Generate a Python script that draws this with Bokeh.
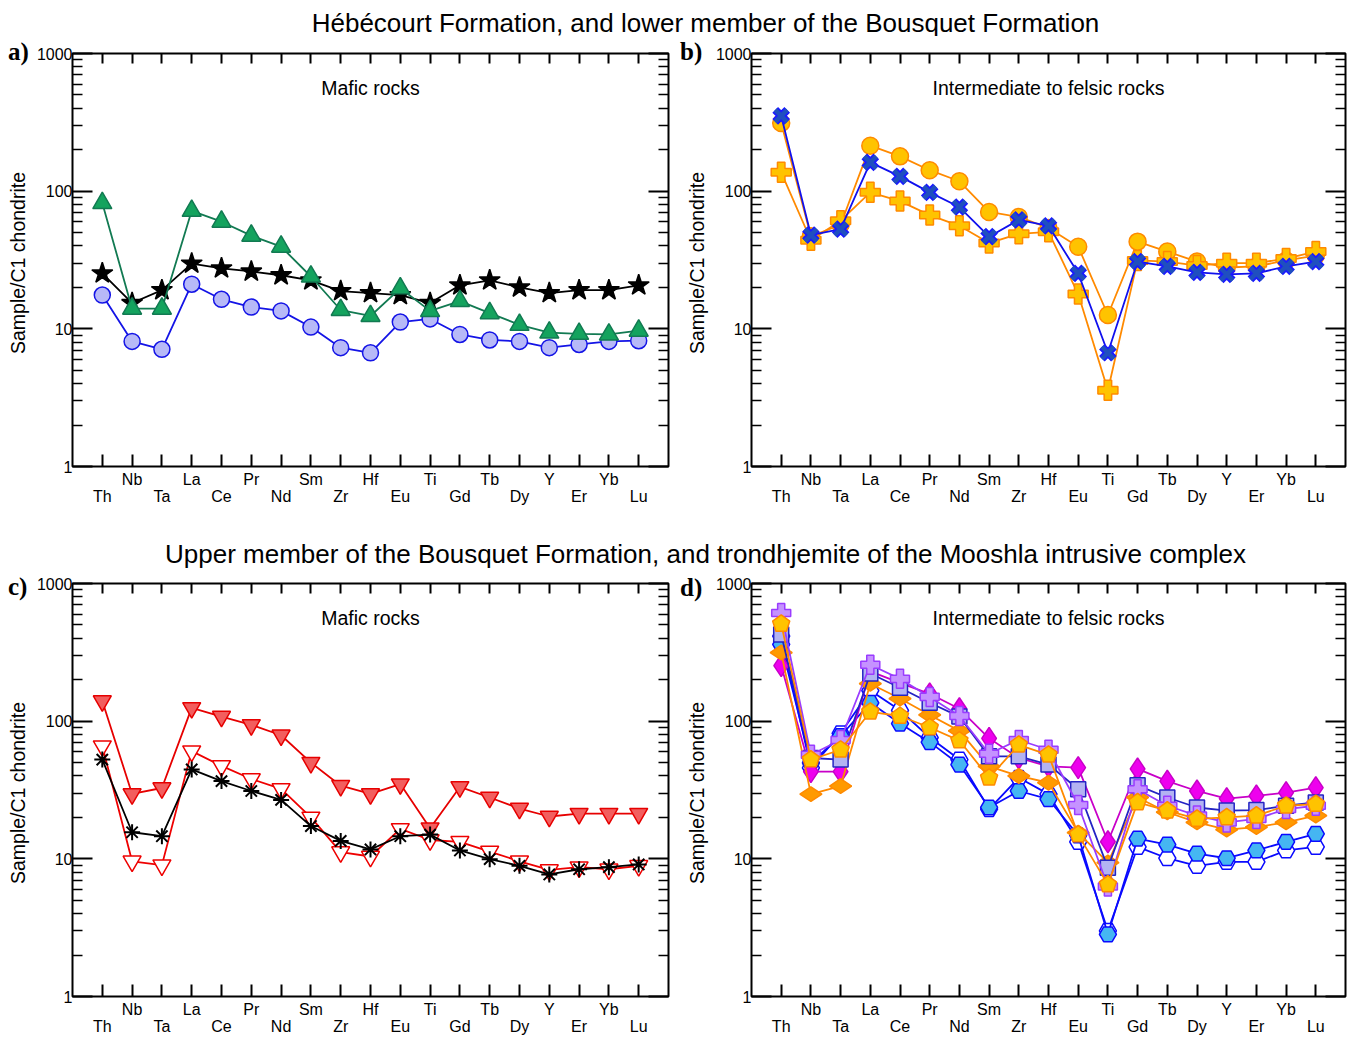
import math
from bokeh.plotting import figure
from bokeh.models import (Range1d, LinearAxis, LogAxis, FixedTicker, PrintfTickFormatter,
                          CustomJSTickFormatter, Label, Div)
from bokeh.core.properties import value
from bokeh.layouts import column, row
from bokeh.embed import file_html
from bokeh.resources import INLINE

# ---------------- data ----------------
elements = ["Th", "Nb", "Ta", "La", "Ce", "Pr", "Nd", "Sm", "Zr", "Hf",
            "Eu", "Ti", "Gd", "Tb", "Dy", "Y", "Er", "Yb", "Lu"]
xpos = list(range(len(elements)))

y_major = [1, 10, 100, 1000]
y_label = "Sample/C1 chondrite"

title_top = "Hébécourt Formation, and lower member of the Bousquet Formation"
title_bottom = "Upper member of the Bousquet Formation, and trondhjemite of the Mooshla intrusive complex"

# panel a  (mafic rocks, Hébécourt / lower Bousquet)
a_circle = [17.6, 8.1, 7.1, 21.1, 16.4, 14.4, 13.5, 10.3, 7.3, 6.7, 11.2, 11.8, 9.1, 8.3, 8.1, 7.3, 7.7, 8.1, 8.2]
a_star = [25.3, 15.4, 19.1, 29.8, 27.5, 26.1, 24.5, 22.5, 18.8, 18.2, 17.6, 15.4, 20.7, 22.5, 20.0, 18.2, 19.1, 19.1, 20.7]
a_triangle = [82, 14, 14, 72, 60, 47.5, 39.5, 24, 13.7, 12.4, 19.7, 13.5, 15.9, 13.0, 10.7, 9.4, 9.2, 9.1, 9.7]

# panel b  (intermediate to felsic rocks)
b_circle = [313, 47, 57, 214, 179, 142, 118, 70.6, 65, 54, 39.5, 12.6, 43, 36.4, 30.8, 27.9, 28.4, 31.4, 34]
b_plus = [137, 44, 61, 98, 84.7, 67, 56, 42, 49, 50.7, 17.9, 3.58, 31.4, 30.8, 28.8, 30, 30, 32.4, 36.4]
b_x = [352, 48, 53, 162, 128, 98, 76.7, 46.7, 61.8, 56, 25.3, 6.7, 30.8, 28.4, 25.7, 24.9, 25.3, 28.4, 30.8]

# panel c  (mafic rocks, upper Bousquet)
c_tri_filled = [140, 29.6, 32.7, 125, 108, 94, 79, 50, 34, 29.6, 34.9, 16.7, 33.3, 27.9, 23.2, 20.3, 21.3, 21.3, 21.3]
c_tri_open = [65.9, 9.6, 9.0, 60.6, 47.3, 38, 32.2, 20, 11.2, 10.4, 16.5, 13.7, 13.3, 11.3, 9.6, 8.3, 8.7, 8.4, 8.9]
c_asterisk = [52.6, 15.6, 14.6, 44.6, 36.7, 31.1, 26.8, 17.3, 13.5, 11.7, 14.6, 15.0, 11.5, 9.95, 8.9, 7.7, 8.4, 8.7, 9.1]

# panel d  (intermediate to felsic rocks, upper Bousquet + Mooshla trondhjemite)
d_hex_open = [415, 45.8, 81.6, 167, 120, 76, 52.6, 23, 38.8, 29.5, 13.3, 3.0, 12.2, 10.1, 8.9, 9.5, 9.5, 11.5, 12.2]
d_hex = [361, 49.7, 78, 136, 96, 70.4, 48.4, 23.6, 31.1, 27.1, 14.8, 2.83, 14.0, 12.7, 10.9, 10.1, 11.5, 13.3, 15.2]
d_magenta = [253, 43, 43, 230, 190, 158, 123, 75, 54, 47, 46, 13.3, 45, 36.7, 31.1, 27.4, 28.7, 30.3, 32.9]
d_orange_diamond = [315, 29.5, 33.8, 187, 146, 111, 85, 47, 40, 35.7, 15.5, 9.4, 27.9, 21.8, 18.4, 16.3, 17, 18.4, 20.6]
d_square = [426, 54, 52.6, 222, 175, 136, 108, 55.5, 55.5, 48.4, 32, 8.6, 34.2, 27.9, 23.6, 22.4, 22.6, 24.3, 25.7]
d_plus = [610, 57, 73, 257, 203, 150, 109, 58, 73, 62, 24.6, 6.3, 32, 24.3, 20.6, 18.4, 19.5, 23, 24.3]
d_pentagon = [509, 52.6, 62, 117, 109, 90, 72.3, 38.8, 67.3, 57, 15, 6.5, 25.7, 22.4, 19.5, 20, 20.6, 24.3, 25]

# ---------------- styling ----------------
FONT = "Liberation Sans"
TICK_FS = "16px"
LABEL_FS = "19.5px"
TITLE_FS = "26px"
FRAME_H = 413
Y_MINOR = [m * 10 ** e for e in range(3) for m in range(2, 10)]
TOTAL_W = 1350


def blank_formatter():
    return CustomJSTickFormatter(code="return '';")


def title_fig(text, h, center_x, center_from_top):
    f = figure(frame_width=TOTAL_W, frame_height=h, x_range=Range1d(0, TOTAL_W), y_range=Range1d(0, h),
               min_border=0, x_axis_location=None, y_axis_location=None, title=None,
               toolbar_location=None, output_backend="svg")
    f.grid.visible = False
    f.outline_line_color = None
    f.background_fill_color = "white"
    f.border_fill_color = "white"
    f.text(x=[center_x], y=[h - center_from_top], text=[text], text_font=value(FONT),
           text_font_size=TITLE_FS, text_align="center", text_baseline="middle", text_color="black")
    return f


def strip_div(w, h, letter, letter_x, letter_top, label_cx, label_cy):
    html = (
        f'<div style="position:relative;width:{w}px;height:{h}px;overflow:visible;">'
        f'<span style="position:absolute;left:{letter_x}px;top:{letter_top}px;'
        f'font-family:\'Liberation Serif\',serif;font-weight:bold;font-size:25px;line-height:25px;'
        f'color:black;white-space:nowrap;">{letter}</span>'
        f'<span style="position:absolute;left:{label_cx}px;top:{label_cy}px;'
        f'transform:translate(-50%,-50%) rotate(-90deg);white-space:nowrap;'
        f'font-family:\'{FONT}\',sans-serif;font-size:{LABEL_FS};line-height:22px;color:black;">{y_label}</span>'
        f'</div>'
    )
    return Div(text=html, width=w, height=h, margin=0)


def style_axis(ax):
    ax.axis_line_color = None
    ax.major_tick_line_color = "black"
    ax.major_tick_line_width = 2
    ax.minor_tick_line_color = "black"
    ax.minor_tick_line_width = 1.6
    ax.major_tick_out = 0
    ax.minor_tick_out = 0
    ax.major_label_text_font = FONT
    ax.major_label_text_font_size = TICK_FS
    ax.major_label_text_color = "black"


def make_fig(frame_w, bl, br, bt, bb, inner_text):
    p = figure(frame_width=frame_w, frame_height=FRAME_H,
               min_border_left=bl, min_border_right=br, min_border_top=bt, min_border_bottom=bb,
               x_range=Range1d(-1, len(elements)), y_range=Range1d(1, 1000), y_axis_type="log",
               x_axis_location=None, y_axis_location=None, title=None,
               toolbar_location=None, output_backend="svg")
    p.grid.visible = False
    p.outline_line_color = "black"
    p.outline_line_width = 2
    p.background_fill_color = "white"
    p.border_fill_color = "white"

    left = LogAxis(ticker=FixedTicker(ticks=y_major, minor_ticks=Y_MINOR),
                   formatter=PrintfTickFormatter(format="%d"))
    style_axis(left)
    left.major_tick_in = 20
    left.minor_tick_in = 10
    left.major_label_standoff = 0
    p.add_layout(left, "left")

    right = LogAxis(ticker=FixedTicker(ticks=y_major, minor_ticks=Y_MINOR), formatter=blank_formatter())
    style_axis(right)
    right.major_tick_in = 20
    right.minor_tick_in = 10
    right.major_label_text_font_size = "0px"
    right.major_label_standoff = 0
    p.add_layout(right, "right")

    top = LinearAxis(ticker=FixedTicker(ticks=xpos, minor_ticks=[]), formatter=blank_formatter())
    style_axis(top)
    top.major_tick_in = 10
    top.minor_tick_line_color = None
    top.major_label_text_font_size = "0px"
    top.major_label_standoff = 0
    p.add_layout(top, "above")

    odd_fmt = CustomJSTickFormatter(args=dict(names=elements),
                                    code="const i = Math.round(tick); return (i % 2 === 1) ? names[i] : '';")
    b1 = LinearAxis(ticker=FixedTicker(ticks=xpos, minor_ticks=[]), formatter=odd_fmt)
    style_axis(b1)
    b1.major_tick_in = 12
    b1.minor_tick_line_color = None
    b1.major_label_standoff = 4
    p.add_layout(b1, "below")

    even_fmt = CustomJSTickFormatter(args=dict(names=elements),
                                     code="const i = Math.round(tick); return names[i];")
    b2 = LinearAxis(ticker=FixedTicker(ticks=xpos[::2], minor_ticks=[]), formatter=even_fmt)
    style_axis(b2)
    b2.major_tick_line_color = None
    b2.minor_tick_line_color = None
    b2.major_tick_in = 0
    b2.major_label_standoff = -3
    p.add_layout(b2, "below")

    iy = 10 ** (3 - 34 / (FRAME_H / 3))
    p.add_layout(Label(x=9, y=iy, text=inner_text, text_font=FONT, text_font_size=LABEL_FS,
                       text_color="black", text_align="center", text_baseline="alphabetic"))
    return p


def series(p, ys, marker, size, fill, line, line_w=1.8, mline_w=1.5, angle=0.0):
    p.line(xpos, ys, line_color=line, line_width=line_w)
    p.scatter(xpos, ys, marker=marker, size=size, fill_color=fill, line_color=line,
              line_width=mline_w, angle=angle)


# ---------------- geometry ----------------
ROW1_TOP, ROW1_BOT = 17, 72
ROW2_TOP, ROW2_BOT = 15, 40
ROW1_H = ROW1_TOP + FRAME_H + ROW1_BOT
ROW2_H = ROW2_TOP + FRAME_H + ROW2_BOT
A_W, B_W = 596, 594
A_BL, A_BR = 42, 10
B_BL, B_BR = 43, 5
STRIP_A, STRIP_B = 30, 30

# ---------------- panels ----------------
fa = make_fig(A_W, A_BL, A_BR, ROW1_TOP, ROW1_BOT, "Mafic rocks")
series(fa, a_circle, "circle", 16, "#b7b9f7", "#1414e6")
series(fa, a_star, "star", 22, "black", "black")
series(fa, a_triangle, "triangle", 19, "#14a35e", "#127a52")

fb = make_fig(B_W, B_BL, B_BR, ROW1_TOP, ROW1_BOT, "Intermediate to felsic rocks")
series(fb, b_circle, "circle", 17, "#ffc300", "#ff8a00")
series(fb, b_plus, "plus", 20, "#ffc300", "#ff8a00")
fb.line(xpos, b_x, line_color="#1010ee", line_width=1.8)
fb.scatter(xpos, b_x, marker="x", size=17, line_color="#1a1aff", line_width=8)
fb.scatter(xpos, b_x, marker="x", size=17, line_color="#1f4fbf", line_width=4.5)

fc = make_fig(A_W, A_BL, A_BR, ROW2_TOP, ROW2_BOT, "Mafic rocks")
series(fc, c_tri_filled, "inverted_triangle", 18, "#f25e5e", "#e60000")
series(fc, c_tri_open, "inverted_triangle", 18, "white", "#ee0000")
series(fc, c_asterisk, "asterisk", 16, "black", "black", mline_w=2)

fd = make_fig(B_W, B_BL, B_BR, ROW2_TOP, ROW2_BOT, "Intermediate to felsic rocks")
series(fd, d_hex_open, "hex", 17, "white", "#0a0aff")
series(fd, d_hex, "hex", 17, "#45b6f2", "#0a0aff")
series(fd, d_magenta, "diamond", 22, "#ee00ee", "#c800c8")
series(fd, d_orange_diamond, "diamond", 22, "#ff9a00", "#ff8a00", angle=math.pi / 2)
series(fd, d_square, "square", 15, "#b3b3f2", "#2424c4")
series(fd, d_plus, "plus", 19, "#c592ff", "#9a3cff")
fd.line(xpos, d_pentagon, line_color="#ff8a00", line_width=1.8)
try:
    fd.ngon(x=xpos, y=d_pentagon, radius=9, radius_units="screen", n=5,
            fill_color="#ffc300", line_color="#ff8a00", line_width=1.5)
except Exception:
    fd.scatter(xpos, d_pentagon, marker="hex", size=17, fill_color="#ffc300",
               line_color="#ff8a00", line_width=1.5)

# strips holding panel letters and y-axis titles (HTML, not frame-aligned)
LAB1_CY = ROW1_TOP + FRAME_H / 2 + 3
LAB2_CY = ROW2_TOP + FRAME_H / 2 + 3
sa = strip_div(STRIP_A, ROW1_H, "a)", 8, 3, 18, LAB1_CY)
sb = strip_div(STRIP_B, ROW1_H, "b)", 2, 3, 19, LAB1_CY)
sc = strip_div(STRIP_A, ROW2_H, "c)", 8, 6, 18, LAB2_CY)
sd = strip_div(STRIP_B, ROW2_H, "d)", 2, 7, 19, LAB2_CY)

t1 = title_fig(title_top, 36, 705, 22)
t2 = title_fig(title_bottom, 30, 705, 15)

layout = column(t1, row(sa, fa, sb, fb), t2, row(sc, fc, sd, fd))

open("out.html", "w", encoding="utf-8").write(file_html(layout, INLINE))
